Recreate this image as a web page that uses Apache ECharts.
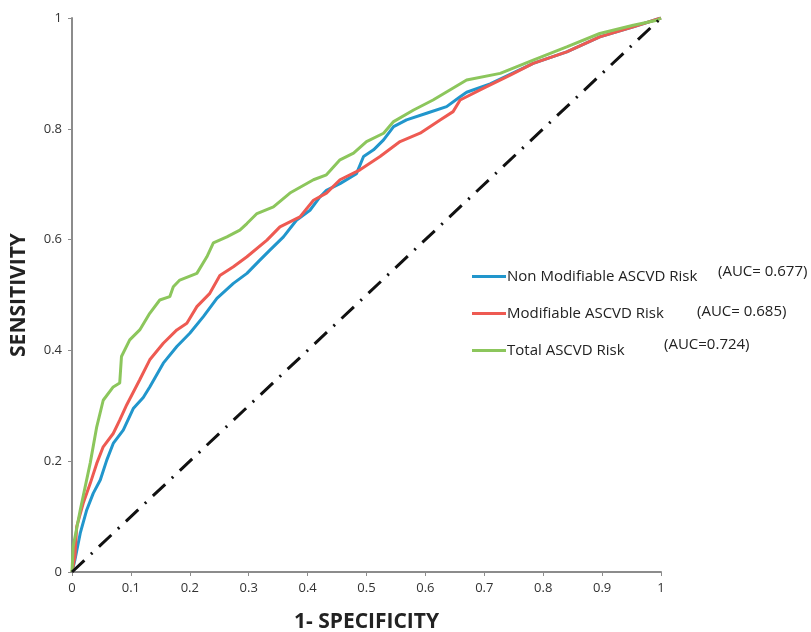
<!DOCTYPE html>
<html>
<head>
<meta charset="utf-8">
<script src="https://cdn.jsdelivr.net/npm/echarts@6/dist/echarts.min.js"></script>
<style>
  html, body { margin: 0; padding: 0; background: #fff; }
  #chart { width: 811px; height: 632px; }
</style>
</head>
<body>
<div id="chart"></div>
<script>
// ROC curves, [1 - specificity, sensitivity]
var seriesNames = ['Non Modifiable ASCVD Risk', 'Modifiable ASCVD Risk', 'Total ASCVD Risk'];
var aucLabels = ['(AUC= 0.677)', '(AUC= 0.685)', '(AUC=0.724)'];

var nonModifiable = [
    [0, 0], [0.005, 0.022], [0.014, 0.070], [0.025, 0.112], [0.036, 0.142], [0.048, 0.166],
    [0.059, 0.202], [0.070, 0.232], [0.087, 0.256], [0.104, 0.295], [0.121, 0.315], [0.132, 0.334],
    [0.155, 0.377], [0.178, 0.407], [0.200, 0.431], [0.223, 0.461], [0.246, 0.494], [0.274, 0.521],
    [0.297, 0.539], [0.319, 0.563], [0.336, 0.581], [0.359, 0.605], [0.381, 0.635], [0.404, 0.653],
    [0.421, 0.677], [0.432, 0.689], [0.455, 0.701], [0.483, 0.719], [0.495, 0.750], [0.512, 0.762],
    [0.529, 0.780], [0.546, 0.804], [0.568, 0.816], [0.602, 0.828], [0.636, 0.840], [0.659, 0.858],
    [0.670, 0.866], [0.710, 0.881], [0.783, 0.918], [0.840, 0.939], [0.896, 0.966], [0.953, 0.984],
    [1, 1]
];

var modifiable = [
    [0, 0], [0.005, 0.028], [0.008, 0.082], [0.019, 0.124], [0.031, 0.160], [0.042, 0.196],
    [0.053, 0.226], [0.070, 0.250], [0.081, 0.274], [0.093, 0.302], [0.115, 0.347], [0.132, 0.383],
    [0.155, 0.413], [0.178, 0.437], [0.195, 0.449], [0.212, 0.479], [0.234, 0.503], [0.251, 0.535],
    [0.274, 0.551], [0.297, 0.569], [0.331, 0.599], [0.353, 0.623], [0.387, 0.641], [0.410, 0.671],
    [0.432, 0.684], [0.455, 0.708], [0.489, 0.726], [0.523, 0.750], [0.557, 0.777], [0.591, 0.792],
    [0.625, 0.816], [0.647, 0.831], [0.659, 0.852], [0.698, 0.873], [0.744, 0.897], [0.783, 0.918],
    [0.840, 0.939], [0.896, 0.966], [0.953, 0.984], [1, 1]
];

var totalRisk = [
    [0, 0], [0.002, 0.046], [0.014, 0.112], [0.031, 0.197], [0.042, 0.262], [0.053, 0.310],
    [0.070, 0.334], [0.081, 0.341], [0.084, 0.389], [0.098, 0.419], [0.115, 0.437], [0.132, 0.467],
    [0.149, 0.491], [0.166, 0.497], [0.172, 0.515], [0.183, 0.527], [0.212, 0.539], [0.229, 0.569],
    [0.240, 0.594], [0.263, 0.605], [0.285, 0.617], [0.297, 0.629], [0.314, 0.647], [0.342, 0.659],
    [0.370, 0.684], [0.410, 0.708], [0.432, 0.717], [0.455, 0.744], [0.478, 0.756], [0.500, 0.777],
    [0.529, 0.792], [0.546, 0.813], [0.580, 0.834], [0.613, 0.852], [0.670, 0.888], [0.727, 0.900],
    [0.783, 0.924], [0.840, 0.948], [0.896, 0.972], [0.953, 0.987], [0.993, 0.996], [1, 1]
];

var chanceLine = [[0, 0], [1, 1]];

var colors = ['#2196cc', '#ee5a52', '#8cc65c'];
var font = '"Open Sans", "DejaVu Sans", sans-serif';

var chart = echarts.init(document.getElementById('chart'));

function curve(name, data, color, z) {
    return {
        name: name,
        type: 'line',
        data: data,
        symbol: 'none',
        smooth: false,
        z: z,
        lineStyle: { color: color, width: 3 },
        itemStyle: { color: color }
    };
}

var option = {
    animation: false,
    backgroundColor: '#fff',
    grid: { left: 72, right: 150, top: 18, bottom: 60, containLabel: false, outerBoundsMode: 'none' },
    legend: {
        orient: 'vertical',
        left: 467,
        top: 264,
        icon: 'rect',
        itemWidth: 34,
        itemHeight: 3,
        itemGap: 22,
        data: seriesNames,
        textStyle: { fontFamily: font, fontSize: 15, color: '#222', padding: [0, 0, 0, -4] }
    },
    xAxis: {
        type: 'value',
        min: 0, max: 1, interval: 0.1,
        name: '1- SPECIFICITY',
        nameLocation: 'middle',
        nameGap: 40,
        nameTextStyle: { fontFamily: font, fontSize: 21, fontWeight: 'bold', color: '#222' },
        splitLine: { show: false },
        axisLine: { lineStyle: { color: '#8c8c8c', width: 2 } },
        axisTick: { show: true, length: 4, lineStyle: { color: '#8c8c8c', width: 1 } },
        axisLabel: { fontFamily: font, fontSize: 13, color: '#333', margin: 10 }
    },
    yAxis: {
        type: 'value',
        min: 0, max: 1, interval: 0.2,
        name: 'SENSITIVITY',
        nameLocation: 'middle',
        nameGap: 42,
        nameTextStyle: { fontFamily: font, fontSize: 21, fontWeight: 'bold', color: '#222' },
        splitLine: { show: false },
        axisLine: { show: true, lineStyle: { color: '#8c8c8c', width: 2 } },
        axisTick: { show: true, length: 4, lineStyle: { color: '#8c8c8c', width: 1 } },
        axisLabel: { fontFamily: font, fontSize: 13, color: '#333', margin: 10 }
    },
    graphic: [
        { type: 'text', left: 718, top: 264, style: { text: aucLabels[0], font: '15px ' + font, fill: '#222' } },
        { type: 'text', left: 697, top: 304, style: { text: aucLabels[1], font: '15px ' + font, fill: '#222' } },
        { type: 'text', left: 664, top: 337, style: { text: aucLabels[2], font: '15px ' + font, fill: '#222' } }
    ],
    series: [
        curve(seriesNames[0], nonModifiable, colors[0], 2),
        curve(seriesNames[1], modifiable, colors[1], 3),
        curve(seriesNames[2], totalRisk, colors[2], 4),
        {
            name: 'Reference',
            type: 'line',
            data: chanceLine,
            symbol: 'none',
            z: 5,
            lineStyle: { color: '#111', width: 3, type: [17, 9, 2, 9], cap: 'butt' }
        }
    ]
};

chart.setOption(option);
</script>
</body>
</html>
